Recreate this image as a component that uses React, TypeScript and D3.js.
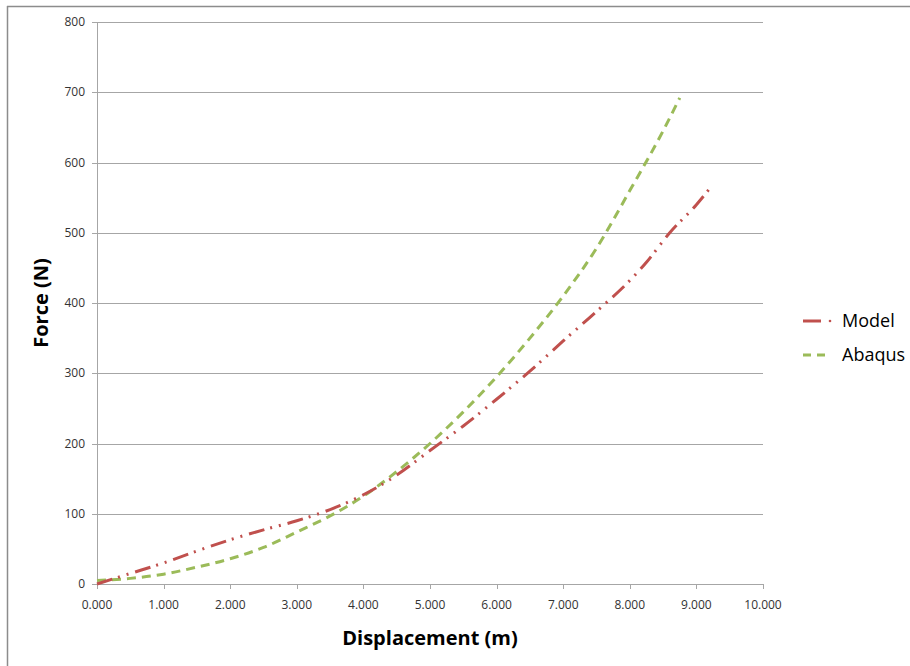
import React from 'react';
import * as d3 from 'd3';

const modelX = [0, 0.5, 1, 1.5, 2, 2.5, 3, 3.5, 4, 4.5, 5, 5.5, 6, 6.5, 7, 7.5, 8, 8.25, 8.6, 9, 9.2];
const modelY = [0, 15, 30, 47, 63, 77, 90, 106, 127, 155, 190, 225, 263, 303, 346, 388, 432, 458, 500, 540, 563];

const abaqusX = [0, 0.5, 1, 1.5, 2, 2.5, 3, 3.5, 4, 4.5, 5, 5.5, 6, 6.5, 7, 7.5, 8, 8.5, 8.75];
const abaqusY = [5, 8, 14, 24, 36, 52, 74, 97, 125, 160, 200, 245, 295, 350, 410, 478, 560, 645, 692];

const xTicks = [0, 1, 2, 3, 4, 5, 6, 7, 8, 9, 10];
const yTicks = [0, 100, 200, 300, 400, 500, 600, 700, 800];

const W = 910;
const H = 666;
const left = 97, right = 763, top = 22, bottom = 584;

const font = "'Open Sans', 'Noto Sans', sans-serif";

export default function App() {
  const x = d3.scaleLinear().domain([0, 10]).range([left, right]);
  const y = d3.scaleLinear().domain([0, 800]).range([bottom, top]);

  const line = d3.line<[number, number]>()
    .x(d => x(d[0]))
    .y(d => y(d[1]))
    .curve(d3.curveMonotoneX);

  const model = modelX.map((v, i) => [v, modelY[i]] as [number, number]);
  const abaqus = abaqusX.map((v, i) => [v, abaqusY[i]] as [number, number]);

  return (
    <svg width={W} height={H} style={{ position: 'absolute', left: 0, top: 0 }} fontFamily={font}>
      <rect width={W} height={H} fill="#fff" />
      {/* chart border */}
      <line x1={7} y1={6.5} x2={W} y2={6.5} stroke="#8c8c8c" strokeWidth={1.5} />
      <line x1={7.5} y1={6} x2={7.5} y2={H} stroke="#8c8c8c" strokeWidth={1.5} />

      {/* gridlines */}
      {yTicks.map(t => (
        <line key={'g' + t} x1={left} x2={right} y1={Math.round(y(t)) + 0.5} y2={Math.round(y(t)) + 0.5}
          stroke="#a6a6a6" strokeWidth={1} />
      ))}
      <line x1={left + 0.5} x2={left + 0.5} y1={top} y2={bottom + 5} stroke="#a6a6a6" />
      {yTicks.map(t => (
        <line key={'yt' + t} x1={left - 5} x2={left} y1={Math.round(y(t)) + 0.5} y2={Math.round(y(t)) + 0.5}
          stroke="#a6a6a6" />
      ))}
      {xTicks.map(t => (
        <line key={'xt' + t} x1={Math.round(x(t)) + 0.5} x2={Math.round(x(t)) + 0.5} y1={bottom} y2={bottom + 5}
          stroke="#a6a6a6" />
      ))}

      {/* tick labels */}
      {yTicks.map(t => (
        <text key={'yl' + t} x={left - 12} y={y(t) + 4} textAnchor="end" fontSize={12} fill="#333">{t}</text>
      ))}
      {xTicks.map(t => (
        <text key={'xl' + t} x={x(t)} y={bottom + 25} textAnchor="middle" fontSize={12} fill="#333">
          {d3.format('.3f')(t)}
        </text>
      ))}

      {/* series */}
      <path d={line(abaqus) || ''} fill="none" stroke="#9bbb59" strokeWidth={3}
        strokeDasharray="9,6" />
      <path d={line(model) || ''} fill="none" stroke="#c0504d" strokeWidth={3}
        strokeDasharray="16,6,2,7,2,7" />

      {/* axis titles */}
      <text x={430} y={645} textAnchor="middle" fontSize={20} fontWeight="bold" fill="#000">Displacement (m)</text>
      <text transform={`translate(48,${303}) rotate(-90)`} textAnchor="middle" fontSize={20} fontWeight="bold" fill="#000">Force (N)</text>

      {/* legend */}
      <line x1={803} x2={821} y1={321} y2={321} stroke="#c0504d" strokeWidth={3} />
      <circle cx={830} cy={321} r={1.3} fill="#c0504d" />
      <text x={842} y={327} fontSize={18} fill="#000">Model</text>
      <line x1={803} x2={826} y1={355} y2={355} stroke="#9bbb59" strokeWidth={3} strokeDasharray="8,6" />
      <text x={842} y={361} fontSize={18} fill="#000">Abaqus</text>
    </svg>
  );
}
